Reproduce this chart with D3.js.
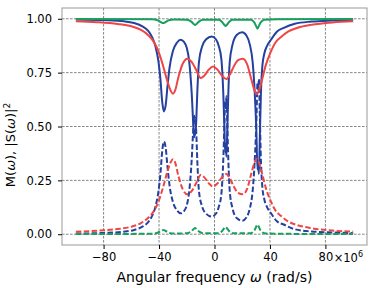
<!DOCTYPE html>
<html>
<head>
<meta charset="utf-8">
<script src="https://cdn.jsdelivr.net/npm/d3@7"></script>
<style>
  body { margin: 0; background: #fff; }
  svg { display: block; font-family: "DejaVu Sans", sans-serif; }
</style>
</head>
<body>
<div id="chart"></div>
<script>
// values (x in units of 1e6 rad/s)
var blueX = [-100, -80, -65, -58, -52, -48, -45, -42.5, -40.4, -39, -37.8, -36.5, -35.2, -34, -32.5, -30, -27, -24.4, -22, -20, -18.4, -16.5, -15.2, -14.6, -14.2, -13.8, -13.2, -12.4, -11.2, -9, -6, -2, 1, 3, 5, 6.3, 7.2, 7.7, 8.1, 8.6, 9.3, 10, 11, 13, 16, 20, 23, 25.5, 27.5, 29, 30.2, 31, 31.5, 32, 32.7, 33.5, 34.5, 36, 38, 41, 45, 50, 58, 70, 85, 100];
var blueM = [0.997, 0.994, 0.988, 0.98, 0.965, 0.945, 0.915, 0.87, 0.8, 0.72, 0.62, 0.57, 0.6, 0.68, 0.77, 0.85, 0.89, 0.903, 0.893, 0.865, 0.81, 0.66, 0.5, 0.45, 0.48, 0.46, 0.52, 0.66, 0.8, 0.87, 0.905, 0.918, 0.905, 0.875, 0.81, 0.66, 0.48, 0.38, 0.42, 0.36, 0.5, 0.66, 0.8, 0.88, 0.925, 0.937, 0.922, 0.88, 0.8, 0.66, 0.48, 0.3, 0.33, 0.28, 0.45, 0.66, 0.78, 0.84, 0.875, 0.905, 0.94, 0.958, 0.977, 0.987, 0.992, 0.995];
var blueS = [0.003, 0.006, 0.012, 0.02, 0.035, 0.055, 0.085, 0.13, 0.2, 0.28, 0.38, 0.43, 0.4, 0.32, 0.23, 0.15, 0.11, 0.097, 0.107, 0.135, 0.19, 0.34, 0.5, 0.55, 0.52, 0.54, 0.48, 0.34, 0.2, 0.13, 0.095, 0.082, 0.095, 0.125, 0.19, 0.34, 0.52, 0.62, 0.58, 0.64, 0.5, 0.34, 0.2, 0.12, 0.075, 0.063, 0.078, 0.12, 0.2, 0.34, 0.52, 0.7, 0.67, 0.72, 0.55, 0.34, 0.22, 0.16, 0.125, 0.095, 0.06, 0.045, 0.023, 0.013, 0.008, 0.005];

var redX = [-100, -85, -70, -60, -53, -48, -44, -40.5, -37, -34, -31.5, -30, -28.5, -26, -23, -19.5, -16.5, -13, -10, -7.5, -4, -1, 2, 5.5, 8.5, 11, 14, 17, 20.5, 23.5, 26.5, 29, 30.5, 32, 34, 37, 40.5, 44, 48, 53, 60, 70, 85, 100];
var redM = [0.988, 0.984, 0.976, 0.965, 0.948, 0.925, 0.895, 0.85, 0.78, 0.71, 0.665, 0.652, 0.665, 0.73, 0.79, 0.815, 0.8, 0.76, 0.725, 0.735, 0.765, 0.778, 0.765, 0.735, 0.72, 0.74, 0.78, 0.808, 0.815, 0.79, 0.72, 0.665, 0.65, 0.665, 0.71, 0.785, 0.845, 0.89, 0.915, 0.94, 0.958, 0.972, 0.983, 0.988];
var redS = [0.012, 0.016, 0.024, 0.035, 0.052, 0.075, 0.105, 0.15, 0.22, 0.29, 0.335, 0.348, 0.335, 0.27, 0.21, 0.185, 0.2, 0.24, 0.275, 0.265, 0.235, 0.222, 0.235, 0.265, 0.28, 0.26, 0.22, 0.192, 0.185, 0.21, 0.28, 0.335, 0.35, 0.335, 0.29, 0.215, 0.155, 0.11, 0.085, 0.06, 0.042, 0.028, 0.017, 0.012];

var greenX = [-100, -45, -41, -38.5, -37, -35.5, -33, -29, -20, -17, -15, -14, -13, -11, -8, 3, 5.5, 7.2, 8, 8.8, 10.5, 13, 26, 28.8, 30.3, 31, 31.7, 33.2, 36, 45, 100];
var greenM = [0.999, 0.998, 0.993, 0.984, 0.98, 0.984, 0.993, 0.997, 0.995, 0.988, 0.976, 0.971, 0.976, 0.988, 0.995, 0.995, 0.985, 0.971, 0.966, 0.971, 0.985, 0.995, 0.995, 0.982, 0.962, 0.955, 0.962, 0.982, 0.995, 0.998, 0.999];
var greenS = [0.001, 0.002, 0.007, 0.016, 0.02, 0.016, 0.007, 0.003, 0.005, 0.012, 0.024, 0.029, 0.024, 0.012, 0.005, 0.005, 0.015, 0.029, 0.034, 0.029, 0.015, 0.005, 0.005, 0.018, 0.038, 0.045, 0.038, 0.018, 0.005, 0.002, 0.001];

var xTicks = [-80, -40, 0, 40, 80];
var yTicks = [0, 0.25, 0.5, 0.75, 1.0];

var width = 374, height = 288;
var margin = { top: 8, right: 7, bottom: 43, left: 62 };
var tickFont = "11.5px";

var svg = d3.select("#chart").append("svg")
    .attr("width", width)
    .attr("height", height);

var x = d3.scaleLinear().domain([-110, 110]).range([margin.left, width - margin.right]);
var y = d3.scaleLinear().domain([-0.05, 1.05]).range([height - margin.bottom, margin.top]);

// grid
svg.append("g").selectAll("line")
    .data(xTicks).enter().append("line")
    .attr("x1", d => x(d)).attr("x2", d => x(d))
    .attr("y1", margin.top).attr("y2", height - margin.bottom)
    .attr("stroke", "#555").attr("stroke-width", 0.7)
    .attr("stroke-dasharray", "2.6,1.4");
svg.append("g").selectAll("line")
    .data(yTicks).enter().append("line")
    .attr("y1", d => y(d)).attr("y2", d => y(d))
    .attr("x1", margin.left).attr("x2", width - margin.right)
    .attr("stroke", "#555").attr("stroke-width", 0.7)
    .attr("stroke-dasharray", "2.6,1.4");

// curves: solid = M(w), dashed = |S(w)|^2
var series = [
    { xs: blueX, ys: blueM, color: "#2440a0", dash: null },
    { xs: blueX, ys: blueS, color: "#2440a0", dash: "5.5,2.4" },
    { xs: redX, ys: redM, color: "#ef4545", dash: null },
    { xs: redX, ys: redS, color: "#ef4545", dash: "5.5,2.4" },
    { xs: greenX, ys: greenM, color: "#16a05c", dash: null },
    { xs: greenX, ys: greenS, color: "#16a05c", dash: "5.5,2.4" }
];

var line = d3.line()
    .x(d => x(d[0]))
    .y(d => y(d[1]))
    .curve(d3.curveMonotoneX);

series.forEach(function (s) {
    var pts = s.xs.map((v, i) => [v, s.ys[i]]);
    svg.append("path")
        .attr("d", line(pts))
        .attr("fill", "none")
        .attr("stroke", s.color)
        .attr("stroke-width", 2)
        .attr("stroke-dasharray", s.dash);
});

// frame
svg.append("rect")
    .attr("x", margin.left).attr("y", margin.top)
    .attr("width", width - margin.left - margin.right)
    .attr("height", height - margin.top - margin.bottom)
    .attr("fill", "none").attr("stroke", "#999").attr("stroke-width", 1);

// axes
var xAxis = d3.axisBottom(x).tickValues(xTicks).tickSize(4).tickPadding(4)
    .tickFormat(d => d3.format("d")(d).replace("-", "\u2212"));
var gx = svg.append("g")
    .attr("transform", "translate(0," + (height - margin.bottom) + ")")
    .call(xAxis);
gx.select(".domain").remove();
gx.selectAll("text").attr("font-size", tickFont).attr("fill", "#000").attr("font-family", "DejaVu Sans");

var yAxis = d3.axisLeft(y).tickValues(yTicks).tickSize(4).tickPadding(6)
    .tickFormat(d3.format(".2f"));
var gy = svg.append("g")
    .attr("transform", "translate(" + margin.left + ",0)")
    .call(yAxis);
gy.select(".domain").remove();
gy.selectAll("text").attr("font-size", tickFont).attr("fill", "#000").attr("font-family", "DejaVu Sans");

// offset text next to the last tick label
var off = svg.append("text")
    .attr("x", width - margin.right - 4)
    .attr("y", 261.5)
    .attr("text-anchor", "end")
    .attr("font-size", tickFont);
off.append("tspan").text("\u00d710");
off.append("tspan").attr("dy", -5).attr("font-size", "8px").text("6");

// x label
var xl = svg.append("text")
    .attr("x", (margin.left + width - margin.right) / 2)
    .attr("y", 282)
    .attr("text-anchor", "middle")
    .attr("font-size", "14px");
xl.append("tspan").text("Angular frequency ");
xl.append("tspan").attr("font-style", "italic").text("\u03c9");
xl.append("tspan").text(" (rad/s)");

// y label
var yl = svg.append("text")
    .attr("transform", "translate(15,145) rotate(-90)")
    .attr("text-anchor", "middle")
    .attr("font-size", "13px");
yl.append("tspan").text("M(");
yl.append("tspan").attr("font-style", "italic").text("\u03c9");
yl.append("tspan").text("), |S(");
yl.append("tspan").attr("font-style", "italic").text("\u03c9");
yl.append("tspan").text(")|");
yl.append("tspan").attr("dy", -5).attr("font-size", "9px").text("2");
</script>
</body>
</html>
